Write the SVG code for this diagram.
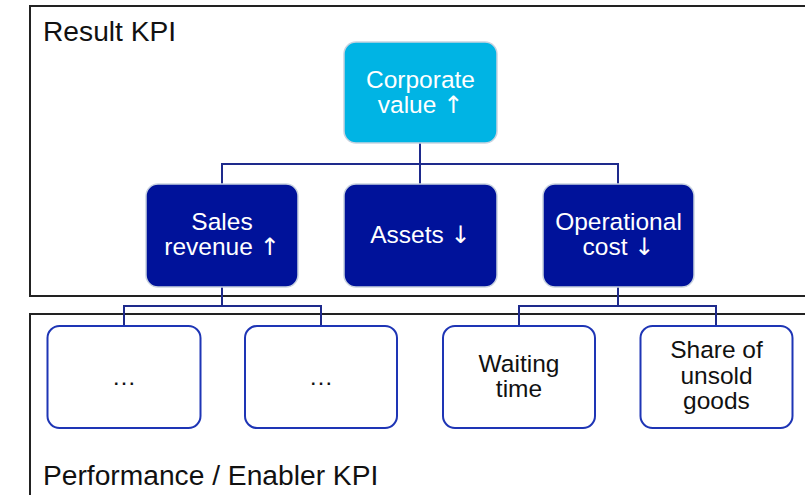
<svg xmlns="http://www.w3.org/2000/svg" width="805" height="495" viewBox="0 0 805 495">
<style>
.frame{fill:none;stroke:#222;stroke-width:2}
.lbl{font-family:"Liberation Sans",Arial,sans-serif;font-size:28.2px;fill:#111}
.t{font-family:"Liberation Sans",Arial,sans-serif;font-size:24.5px;text-anchor:middle}
.ar{font-family:"DejaVu Sans",sans-serif;font-size:24px}
.w{fill:#fff}
.k{fill:#111}
.corp{fill:#00B4E4;stroke:#c9d3e0;stroke-width:1.5}
.dark{fill:#00129A;stroke:#c9d3e0;stroke-width:1.5}
.leaf{fill:#fff;stroke:#1E35B5;stroke-width:2}
.conn{fill:none;stroke:#1E2A8C;stroke-width:2}
</style>
<rect width="805" height="495" fill="#fff"/>
<g id="frame-result">
<rect class="frame" x="30" y="6" width="800" height="290"/>
<text class="lbl" x="43" y="40.5">Result KPI</text>
</g>
<g id="frame-performance">
<rect class="frame" x="30" y="314" width="800" height="200"/>
<text class="lbl" x="43" y="485">Performance / Enabler KPI</text>
</g>
<g id="connectors">
<path class="conn" d="M420 143V164M222 184V164H618V184M420 164V184"/>
<path class="conn" d="M222 287V306M124 326V306H321V326"/>
<path class="conn" d="M618 287V306M519 326V306H716V326"/>
</g>
<g id="corporate-value">
<rect class="corp" x="344" y="42" width="153" height="101" rx="12"/>
<text class="t w" x="420.5" y="88">Corporate</text>
<text class="t w" x="420.5" y="113">value <tspan class="ar">↑</tspan></text>
</g>
<g id="sales-revenue">
<rect class="dark" x="146" y="184" width="152" height="103" rx="12"/>
<text class="t w" x="222" y="230">Sales</text>
<text class="t w" x="222" y="255">revenue <tspan class="ar">↑</tspan></text>
</g>
<g id="assets">
<rect class="dark" x="344" y="184" width="153" height="103" rx="12"/>
<text class="t w" x="420.5" y="242.5">Assets <tspan class="ar">↓</tspan></text>
</g>
<g id="operational-cost">
<rect class="dark" x="543" y="184" width="151" height="103" rx="12"/>
<text class="t w" x="618.5" y="230">Operational</text>
<text class="t w" x="618.5" y="255">cost <tspan class="ar">↓</tspan></text>
</g>
<g id="kpi-1">
<rect class="leaf" x="47.5" y="326" width="153" height="102" rx="12"/>
<text class="t k" x="124" y="385">…</text>
</g>
<g id="kpi-2">
<rect class="leaf" x="245" y="326" width="152" height="102" rx="12"/>
<text class="t k" x="321" y="385">…</text>
</g>
<g id="waiting-time">
<rect class="leaf" x="443" y="326" width="152" height="102" rx="12"/>
<text class="t k" x="519" y="372">Waiting</text>
<text class="t k" x="519" y="397">time</text>
</g>
<g id="share-unsold">
<rect class="leaf" x="640.5" y="326" width="152" height="102" rx="12"/>
<text class="t k" x="716.5" y="358">Share of</text>
<text class="t k" x="716.5" y="383.5">unsold</text>
<text class="t k" x="716.5" y="409">goods</text>
</g>
</svg>
